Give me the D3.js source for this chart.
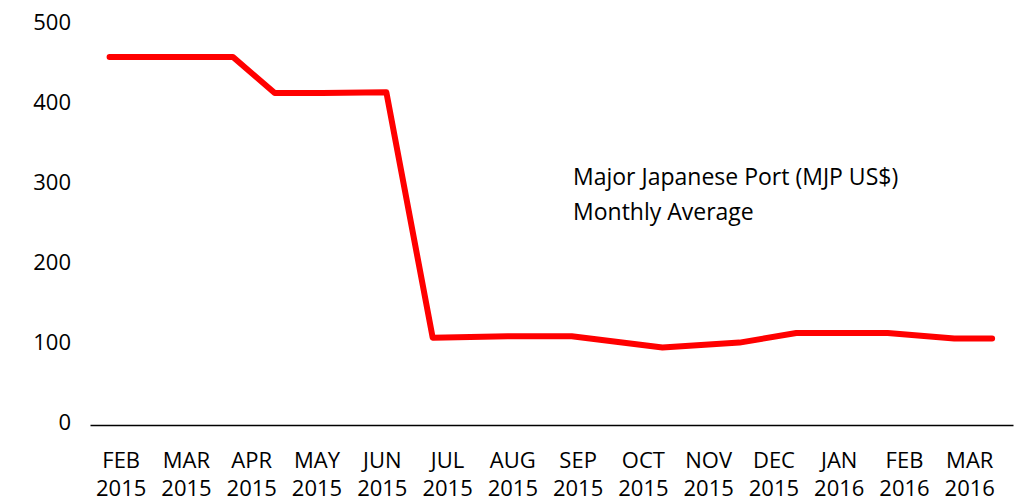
<!DOCTYPE html>
<html>
<head>
<meta charset="utf-8">
<script src="https://cdn.jsdelivr.net/npm/d3@7"></script>
<style>
  body { margin: 0; background: #fff; }
  text { font-family: "Open Sans", sans-serif; fill: #000; }
</style>
</head>
<body>
<div id="chart"></div>
<script>
// Month labels on the axis (index 0 = FEB 2015)
const monthLabels = ['FEB', 'MAR', 'APR', 'MAY', 'JUN', 'JUL', 'AUG', 'SEP', 'OCT', 'NOV', 'DEC', 'JAN', 'FEB', 'MAR'];
const yearLabels = ['2015', '2015', '2015', '2015', '2015', '2015', '2015', '2015', '2015', '2015', '2015', '2016', '2016', '2016'];

// Price points: position in months from FEB 2015, value in US$
const pointMonths = [-0.17, 0.80, 1.72, 2.36, 3.09, 4.07, 4.78, 5.93, 6.91, 8.30, 9.48, 10.35, 11.75, 12.77, 13.35];
const pointValues = [460, 460, 460, 415, 415, 416, 109, 111, 111, 97, 103, 115, 115, 108, 108];

const yTicks = [0, 100, 200, 300, 400, 500];
const noteLines = ['Major Japanese Port (MJP US$)', 'Monthly Average'];

const width = 1032, height = 498;

const svg = d3.select('#chart').append('svg')
  .attr('width', width)
  .attr('height', height);

// Escalas
const x = d3.scaleLinear().domain([-0.47, 13.67]).range([90, 1013]);
const y = d3.scaleLinear().domain([0, 500]).range([425, 25]);

// Eje Y, solo etiquetas
const yAxis = svg.append('g')
  .attr('transform', 'translate(71,0)')
  .call(d3.axisLeft(y).tickValues(yTicks).tickSize(0).tickPadding(0));
yAxis.select('.domain').remove();
yAxis.selectAll('text')
  .attr('font-size', 22)
  .attr('font-family', '"Open Sans", sans-serif')
  .attr('dy', '0.22em');

// Eje X
const xAxis = svg.append('g')
  .attr('transform', `translate(0,${y(0)})`)
  .call(d3.axisBottom(x).tickValues(d3.range(monthLabels.length)).tickSize(0).tickSizeOuter(0).tickFormat(''));
xAxis.select('.domain').attr('stroke', '#000').attr('stroke-width', 1.5);

xAxis.selectAll('.tick').each(function(d) {
  const t = d3.select(this).append('text')
    .attr('text-anchor', 'middle')
    .attr('font-size', 22)
    .attr('font-family', '"Open Sans", sans-serif')
    .attr('fill', '#000');
  t.append('tspan').attr('x', 0).attr('y', 43).text(monthLabels[d]);
  t.append('tspan').attr('x', 0).attr('y', 71).text(yearLabels[d]);
});

// Línea de precios
const line = d3.line()
  .x((d, i) => x(pointMonths[i]))
  .y(d => y(d));

svg.append('path')
  .datum(pointValues)
  .attr('d', line)
  .attr('fill', 'none')
  .attr('stroke', '#ff0000')
  .attr('stroke-width', 6)
  .attr('stroke-linejoin', 'round')
  .attr('stroke-linecap', 'round');

// Nota
svg.append('g')
  .selectAll('text')
  .data(noteLines)
  .enter().append('text')
  .attr('x', 573)
  .attr('y', (d, i) => 185 + i * 35)
  .attr('font-size', 23)
  .text(d => d);
</script>
</body>
</html>
